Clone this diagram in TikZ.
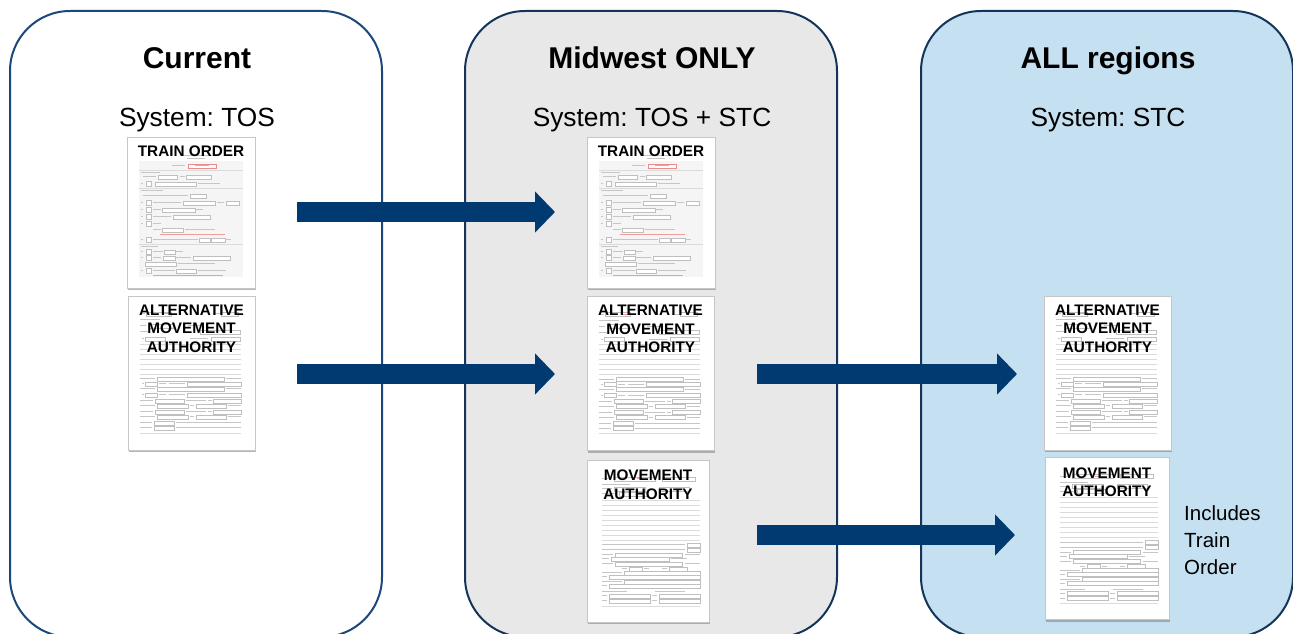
\documentclass[tikz,border=0pt]{standalone}
\usepackage{fontspec}
\setmainfont{Liberation Sans}
\usetikzlibrary{arrows.meta,shadows}
\frenchspacing

\definecolor{panelline}{RGB}{26,72,122}
\definecolor{paneldark}{RGB}{20,52,92}
\definecolor{panelgray}{RGB}{232,232,232}
\definecolor{panelblue}{RGB}{197,224,241}
\definecolor{arrowblue}{RGB}{0,58,112}
\definecolor{formred}{RGB}{228,90,90}

% small helpers for the printed form contents (x1, x2, y)
\newcommand\formlbl[3]{\draw[formtxt] (#1,#3) -- (#2,#3);}
\newcommand\formbox[3]{\draw[formfld] (#1,#3-2) rectangle (#2,#3+2);}
\newcommand\formchk[1]{\draw[formtxt] (14,#1) -- (16,#1); \draw[formfld] (19,#1-2.5) rectangle (24,#1+2.5);}

\tikzset{
  panel/.style={rounded corners=60pt, line width=2pt, inner sep=0pt,
    minimum width=372pt, minimum height=626pt},
  paneltitle/.style={font=\bfseries\fontsize{30}{34}\selectfont, anchor=base, inner sep=0pt},
  systemtext/.style={font=\fontsize{26.3}{30}\selectfont, anchor=base, inner sep=0pt},
  page/.style={draw=gray!45, line width=0.4pt, fill=white, inner sep=0pt,
    drop shadow={shadow xshift=0.6pt, shadow yshift=-2.2pt, opacity=0.5, fill=black!55}},
  doctitle/.style={font=\bfseries\fontsize{15.3}{18.5}\selectfont, align=center,
    text=black, inner sep=0pt, anchor=north},
  notetext/.style={font=\fontsize{20.5}{27}\selectfont, align=left, inner sep=0pt, anchor=west},
  bigarrow/.style={arrowblue, line width=20pt,
    -{Triangle[length=20pt,width=40pt]}},
  formtxt/.style={gray!45, line width=1pt},
  formfld/.style={draw=gray!50, line width=0.35pt, fill=white},
  formrule/.style={gray!28, line width=0.45pt},
  % train order form, origin at the page's top left, 128 x 151
  trainorderform/.pic={
    \fill[gray!8] (12,24) rectangle (116,140);
    \formlbl{56}{83}{19} \formlbl{60}{78}{22}
    \formlbl{45}{58}{29}
    \draw[formfld,draw=formred!70] (61,27) rectangle (89,31);
    \draw[formtxt,formred!60] (68,29) -- (82,29);
    \draw[formrule] (12,33) -- (116,33);
    \formlbl{14}{33}{36}
    \formlbl{16}{29}{40} \formbox{31}{50}{40} \formlbl{53}{58}{40} \formbox{59}{84}{40}
    \formchk{47} \formbox{28}{69}{47} \formlbl{71}{93}{47}
    \draw[formrule] (12,51) -- (116,51);
    \formlbl{14}{36}{54}
    \formlbl{16}{61}{59} \formbox{63}{79}{59}
    \formchk{66} \formlbl{26}{54}{66} \formbox{56}{88}{66} \formlbl{90}{97}{66} \formbox{99}{112}{66}
    \formchk{73} \formlbl{26}{34}{73} \formbox{35}{68}{73} \formlbl{69}{76}{73}
    \formchk{80} \formlbl{26}{44}{80} \formbox{46}{83}{80}
    \formchk{87} \formlbl{26}{34}{87}
    \formlbl{26}{34}{93} \formbox{35}{56}{93} \formlbl{58}{88}{93}
    \draw[formtxt,formred!60] (33,98) -- (98,98);
    \formchk{103} \formlbl{26}{71}{103} \formbox{72}{83}{103} \formbox{84}{98}{103} \formlbl{99}{104}{103}
    \draw[formrule] (12,107) -- (116,107);
    \formlbl{14}{31}{110}
    \formchk{115} \formlbl{26}{36}{115} \formbox{37}{48}{115} \formlbl{49}{56}{115}
    \formchk{121} \formlbl{26}{34}{121} \formbox{36}{48}{121} \formlbl{49}{64}{121} \formbox{66}{103}{121}
    \formbox{18}{49}{127} \formlbl{51}{88}{127}
    \formchk{134} \formlbl{26}{48}{134} \formbox{49}{69}{134} \formlbl{71}{99}{134}
    \draw[formtxt,formred!60] (26,138.5) -- (96,138.5);
  },
  % alternative movement authority form, 127 x 154
  altauthorityform/.pic={
    \formlbl{12}{17}{18} \formbox{18}{43}{18} \draw[formtxt,formred!60] (35,18) -- (42,18);
    \formlbl{85}{92}{18} \formbox{93}{110}{18}
    \formlbl{12}{32}{24}
    \formlbl{12}{18}{30} \formbox{20}{45}{30} \formlbl{60}{75}{30}
    \formlbl{12}{20}{36} \formbox{72}{112}{36}
    \formlbl{14}{16}{43} \formbox{17}{37}{43} \formlbl{62}{80}{43} \formbox{83}{112}{43}
    \foreach \y in {48,53,58,63,68,73,78} {\draw[formrule] (12,\y) -- (113,\y);}
    \foreach \y in {83,93} {\formlbl{12}{27}{\y} \formbox{29}{96}{\y} \formlbl{98}{113}{\y}}
    \foreach \y in {88,99} {\formlbl{14}{16}{\y} \formbox{17}{29}{\y} \formlbl{31}{38}{\y}
      \formlbl{41}{57}{\y} \formbox{59}{113}{\y}}
    \foreach \y in {105,116} {\formlbl{12}{25}{\y} \formbox{27}{56}{\y} \formlbl{58}{78}{\y}
      \formlbl{80}{84}{\y} \formbox{85}{113}{\y}}
    \foreach \y in {110,121} {\formlbl{12}{27}{\y} \formbox{29}{60}{\y} \formlbl{62}{66}{\y}
      \formbox{68}{98}{\y} \formlbl{100}{113}{\y}}
    \foreach \y in {127,132} {\formlbl{12}{24}{\y} \formbox{26}{46}{\y} \formlbl{48}{113}{\y}}
    \draw[formrule] (12,137) -- (113,137);
  },
  % movement authority form, 122 x 162
  authorityform/.pic={
    \formlbl{15}{25}{19} \formbox{27}{68}{19} \draw[formtxt,formred!60] (50,19) -- (56,19);
    \formbox{75}{108}{19}
    \formlbl{15}{43}{25}
    \formlbl{15}{25}{29} \formbox{27}{58}{29} \formbox{72}{102}{29}
    \formlbl{15}{30}{34} \formbox{32}{60}{34}
    \foreach \y in {40,45,50,55,60,65,70,75,80} {\draw[formrule] (15,\y) -- (113,\y);}
    \foreach \y in {85,90} {\formlbl{15}{98}{\y} \formbox{100}{113}{\y}}
    \foreach \y in {95,104} {\formlbl{15}{26}{\y} \formbox{28}{95}{\y} \formlbl{98}{113}{\y}}
    \formlbl{15}{22}{99} \formbox{24}{82}{99} \formlbl{84}{100}{99}
    \formlbl{35}{40}{109} \formbox{42}{55}{109} \formlbl{57}{62}{109} \formlbl{75}{80}{109} \formbox{82}{100}{109}
    \foreach \y in {113,122} {\formlbl{15}{35}{\y} \formbox{37}{113}{\y}}
    \foreach \y in {117,126} {\formlbl{15}{20}{\y} \formbox{22}{113}{\y}}
    \formlbl{15}{40}{132} \formlbl{68}{98}{132}
    \foreach \y in {136,141} {\formlbl{15}{20}{\y} \formbox{22}{63}{\y} \formlbl{65}{70}{\y} \formbox{72}{113}{\y}}
    \draw[formrule] (15,146) -- (113,146);
  }
}

\begin{document}
\begin{tikzpicture}[x=1pt,y=-1pt]
\useasboundingbox (0,0) rectangle (1293,634);
\clip (0,0) rectangle (1293,634);

% the three stage panels
\node[panel, draw=panelline, fill=white]      (p1) at (196,324) {};
\node[panel, draw=paneldark, fill=panelgray]  (p2) at (651,324) {};
\node[panel, draw=paneldark, fill=panelblue]  (p3) at (1107,324) {};

% panel headings
\node[paneltitle] (t1) at (197,69)  {Current};
\node[paneltitle] (t2) at (652,69)  {Midwest ONLY};
\node[paneltitle] (t3) at (1108,69) {ALL regions};
\node[systemtext] (s1) at (197,126)  {System: TOS};
\node[systemtext] (s2) at (652,126)  {System: TOS + STC};
\node[systemtext] (s3) at (1108,126) {System: STC};

% stage 1 forms
\node[page, minimum width=128pt, minimum height=151pt] (to1) at (191,212.5) {};
\pic at (to1.north west) {trainorderform};
\node[doctitle] (to1t) at ([yshift=-8.5pt]to1.north) {TRAIN ORDER};

\node[page, minimum width=127pt, minimum height=154pt] (ama1) at (191.5,373) {};
\pic at (ama1.north west) {altauthorityform};
\node[doctitle] (ama1t) at ([yshift=-8.5pt]ama1.north) {ALTERNATIVE\\MOVEMENT\\AUTHORITY};

% stage 2 forms
\node[page, minimum width=128pt, minimum height=151pt] (to2) at (651,212.5) {};
\pic at (to2.north west) {trainorderform};
\node[doctitle] (to2t) at ([yshift=-8.5pt]to2.north) {TRAIN ORDER};

\node[page, minimum width=127pt, minimum height=154pt] (ama2) at (650.5,373.5) {};
\pic at (ama2.north west) {altauthorityform};
\node[doctitle] (ama2t) at ([yshift=-8.5pt]ama2.north) {ALTERNATIVE\\MOVEMENT\\AUTHORITY};

\node[page, minimum width=122pt, minimum height=162pt] (ma2) at (648,541) {};
\pic at (ma2.north west) {authorityform};
\node[doctitle] (ma2t) at ([yshift=-10pt]ma2.north) {MOVEMENT\\AUTHORITY};

% stage 3 forms
\node[page, minimum width=127pt, minimum height=154pt] (ama3) at (1107.5,373) {};
\pic at (ama3.north west) {altauthorityform};
\node[doctitle] (ama3t) at ([yshift=-8.5pt]ama3.north) {ALTERNATIVE\\MOVEMENT\\AUTHORITY};

\node[page, minimum width=124pt, minimum height=162pt] (ma3) at (1107,538.5) {};
\pic at (ma3.north west) {authorityform};
\node[doctitle] (ma3t) at ([yshift=-10pt]ma3.north) {MOVEMENT\\AUTHORITY};

\node[notetext] (note) at (1184,540) {Includes\\Train\\Order};

% transition arrows
\coordinate (a1s) at (297,212);  \coordinate (a1e) at (555,212);
\coordinate (a2s) at (297,374);  \coordinate (a2e) at (555,374);
\coordinate (a3s) at (757,374);  \coordinate (a3e) at (1017,374);
\coordinate (a4s) at (757,535);  \coordinate (a4e) at (1015,535);
\draw[bigarrow] (a1s) -- (a1e);
\draw[bigarrow] (a2s) -- (a2e);
\draw[bigarrow] (a3s) -- (a3e);
\draw[bigarrow] (a4s) -- (a4e);
\end{tikzpicture}
\end{document}
